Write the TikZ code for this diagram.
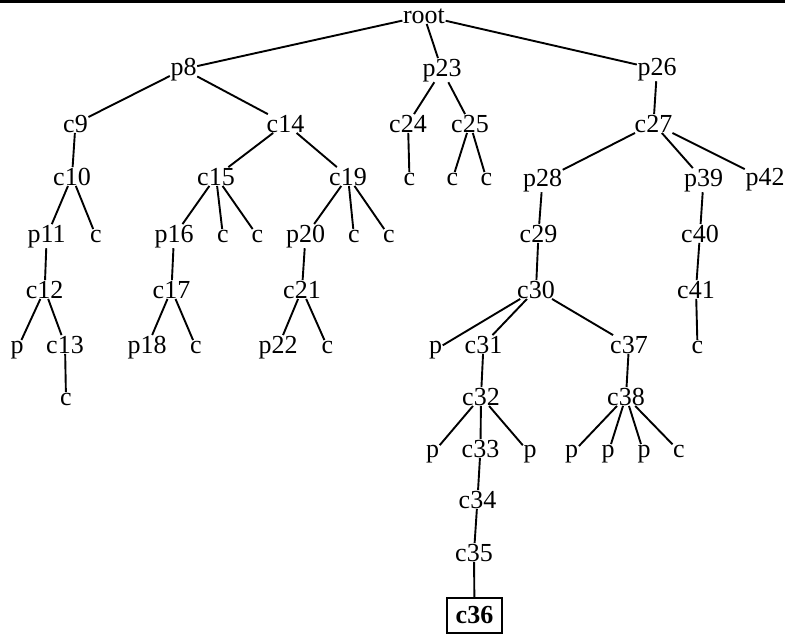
\documentclass[tikz,border=0pt]{standalone}
\usepackage{fontspec}
\setmainfont{Liberation Serif}
\begin{document}
\begin{tikzpicture}[x=1pt, y=-1pt,
  lbl/.style={inner sep=0.5pt, anchor=base, font=\fontsize{26}{30}\selectfont},
  target/.style={draw, line width=2pt, inner sep=0pt, minimum width=55pt, minimum height=35pt,
    font=\fontsize{26}{30}\selectfont\bfseries},
  link/.style={line width=1.9pt}]
\useasboundingbox (0,0) rectangle (785,635);
\fill (0,0) rectangle (785,3);

% level 0-1
\node[lbl] (root) at (424,23) {root};
\node[lbl] (p8)  at (183.5,75) {p8};
\node[lbl] (p23) at (442,76) {p23};
\node[lbl] (p26) at (657,75) {p26};
% level 2
\node[lbl] (c9)  at (75.5,132) {c9};
\node[lbl] (c14) at (285.5,132) {c14};
\node[lbl] (c24) at (408,132) {c24};
\node[lbl] (c25) at (470,132) {c25};
\node[lbl] (c27) at (653.5,132) {c27};
% level 3
\node[lbl] (c10)  at (72,185) {c10};
\node[lbl] (c15)  at (216,185) {c15};
\node[lbl] (c19)  at (348,185) {c19};
\node[lbl] (c24a) at (409.5,185) {c};
\node[lbl] (c25a) at (452.5,185) {c};
\node[lbl] (c25b) at (486.5,185) {c};
\node[lbl] (p28)  at (542.5,186) {p28};
\node[lbl] (p39)  at (703.5,186) {p39};
\node[lbl] (p42)  at (765,185) {p42};
% level 4
\node[lbl] (p11)  at (46.7,242) {p11};
\node[lbl] (c10a) at (96,242) {c};
\node[lbl] (p16)  at (174,242) {p16};
\node[lbl] (c15a) at (223,242) {c};
\node[lbl] (c15b) at (257.5,242) {c};
\node[lbl] (p20)  at (305.5,242) {p20};
\node[lbl] (c19a) at (354,242) {c};
\node[lbl] (c19b) at (389,242) {c};
\node[lbl] (c29)  at (538.5,242) {c29};
\node[lbl] (c40)  at (700,242) {c40};
% level 5
\node[lbl] (c12) at (44.7,298) {c12};
\node[lbl] (c17) at (171.5,298) {c17};
\node[lbl] (c21) at (302,298) {c21};
\node[lbl] (c30) at (536,298) {c30};
\node[lbl] (c41) at (696,298) {c41};
% level 6
\node[lbl] (c12a) at (17,353) {p};
\node[lbl] (c13)  at (65,353) {c13};
\node[lbl] (p18)  at (147,353) {p18};
\node[lbl] (c17a) at (196,353) {c};
\node[lbl] (p22)  at (278,353) {p22};
\node[lbl] (c21a) at (327.5,353) {c};
\node[lbl] (c30a) at (435.5,353) {p};
\node[lbl] (c31)  at (483.5,353) {c31};
\node[lbl] (c37)  at (629,353) {c37};
\node[lbl] (c41a) at (697.5,353) {c};
% level 7
\node[lbl] (c13a) at (66,405) {c};
\node[lbl] (c32)  at (481,405) {c32};
\node[lbl] (c38)  at (626,405) {c38};
% level 8
\node[lbl] (c32a) at (432.5,457) {p};
\node[lbl] (c33)  at (480.5,457) {c33};
\node[lbl] (c32b) at (530,457) {p};
\node[lbl] (c38a) at (571.7,457) {p};
\node[lbl] (c38b) at (608,457) {p};
\node[lbl] (c38c) at (644,457) {p};
\node[lbl] (c38d) at (679,457) {c};
% levels 9-11
\node[lbl] (c34) at (477.5,508) {c34};
\node[lbl] (c35) at (474,561) {c35};
\node[target] (c36) at (474.5,615.5) {c36};

% edges
\draw[link] (root) -- (p8);
\draw[link] (root) -- (p23);
\draw[link] (root) -- (p26);
\draw[link] (p8) -- (c9);
\draw[link] (p8) -- (c14);
\draw[link] (p23) -- (c24);
\draw[link] (p23) -- (c25);
\draw[link] (p26) -- (c27);
\draw[link] (c9) -- (c10);
\draw[link] (c14) -- (c15);
\draw[link] (c14) -- (c19);
\draw[link] (c24) -- (c24a);
\draw[link] (c25) -- (c25a);
\draw[link] (c25) -- (c25b);
\draw[link] (c27) -- (p28);
\draw[link] (c27) -- (p39);
\draw[link] (c27) -- (p42);
\draw[link] (c10) -- (p11);
\draw[link] (c10) -- (c10a);
\draw[link] (c15) -- (p16);
\draw[link] (c15) -- (c15a);
\draw[link] (c15) -- (c15b);
\draw[link] (c19) -- (p20);
\draw[link] (c19) -- (c19a);
\draw[link] (c19) -- (c19b);
\draw[link] (p28) -- (c29);
\draw[link] (p39) -- (c40);
\draw[link] (p11) -- (c12);
\draw[link] (p16) -- (c17);
\draw[link] (p20) -- (c21);
\draw[link] (c29) -- (c30);
\draw[link] (c40) -- (c41);
\draw[link] (c12) -- (c12a);
\draw[link] (c12) -- (c13);
\draw[link] (c17) -- (p18);
\draw[link] (c17) -- (c17a);
\draw[link] (c21) -- (p22);
\draw[link] (c21) -- (c21a);
\draw[link] (c30) -- (c30a);
\draw[link] (c30) -- (c31);
\draw[link] (c30) -- (c37);
\draw[link] (c41) -- (c41a);
\draw[link] (c13) -- (c13a);
\draw[link] (c31) -- (c32);
\draw[link] (c37) -- (c38);
\draw[link] (c32) -- (c32a);
\draw[link] (c32) -- (c33);
\draw[link] (c32) -- (c32b);
\draw[link] (c38) -- (c38a);
\draw[link] (c38) -- (c38b);
\draw[link] (c38) -- (c38c);
\draw[link] (c38) -- (c38d);
\draw[link] (c33) -- (c34);
\draw[link] (c34) -- (c35);
\draw[link] (c35) -- (c36);
\end{tikzpicture}
\end{document}
